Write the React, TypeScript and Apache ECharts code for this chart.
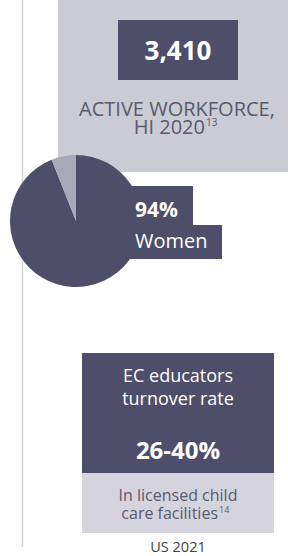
import React, { useEffect, useRef } from "react";
import * as echarts from "echarts";

const pieCategories = ["Women", "Other"];
const pieValues = [94, 6];
const workforceValue = "3,410";
const workforceLabel = ["ACTIVE WORKFORCE,", "HI 2020"];
const workforceNote = "13";
const turnoverTitle = ["EC educators", "turnover rate"];
const turnoverRange = "26-40%";
const turnoverSub = ["In licensed child", "care facilities"];
const turnoverNote = "14";
const turnoverSource = "US 2021";

const DARK = "#4f4e6a";
const LIGHTBOX = "#cbcbd5";
const TEXT = "#5a596f";
const FONT = "'Open Sans', 'Noto Sans', sans-serif";

export default function App() {
  const ref = useRef<HTMLDivElement>(null);
  useEffect(() => {
    document.body.style.margin = "0";
    const chart = echarts.init(ref.current!, null, { renderer: "svg" });
    const labFont = `20px ${FONT}`;
    const subFont = `16px ${FONT}`;
    chart.setOption({
      animation: false,
      graphic: [
        { type: "line", shape: { x1: 22.5, y1: 0, x2: 22.5, y2: 547 }, style: { stroke: "#d6d6d6", lineWidth: 1.5 } },
        { type: "rect", shape: { x: 58, y: 0, width: 230, height: 172 }, style: { fill: LIGHTBOX } },
        { type: "rect", shape: { x: 118, y: 20, width: 120, height: 60 }, style: { fill: DARK } },
        {
          type: "text", x: 178, y: 50,
          style: { text: workforceValue, fill: "#fff", font: `bold 26px ${FONT}`, align: "center", verticalAlign: "middle" },
        },
        {
          type: "text", x: 177, y: 108,
          style: { text: workforceLabel[0], fill: TEXT, font: labFont, align: "center", verticalAlign: "middle" },
        },
        {
          type: "text", x: 205, y: 126,
          style: { text: workforceLabel[1], fill: TEXT, font: labFont, align: "right", verticalAlign: "middle" },
        },
        {
          type: "text", x: 206, y: 122,
          style: { text: workforceNote, fill: TEXT, font: `10px ${FONT}`, align: "left", verticalAlign: "middle" },
        },
        { type: "rect", shape: { x: 120, y: 186, width: 73, height: 40 }, style: { fill: DARK } },
        { type: "rect", shape: { x: 120, y: 225, width: 102, height: 34 }, style: { fill: DARK } },
        {
          type: "text", x: 135, y: 209, z: 10,
          style: { text: `${pieValues[0]}%`, fill: "#fff", font: `bold 21px ${FONT}`, align: "left", verticalAlign: "middle" },
        },
        {
          type: "text", x: 135, y: 240, z: 10,
          style: { text: pieCategories[0], fill: "#fff", font: `20px ${FONT}`, align: "left", verticalAlign: "middle" },
        },
        { type: "rect", shape: { x: 82, y: 353, width: 192, height: 120 }, style: { fill: DARK } },
        { type: "rect", shape: { x: 82, y: 473, width: 192, height: 60 }, style: { fill: "#d5d4de" } },
        {
          type: "text", x: 178, y: 386,
          style: {
            text: `${turnoverTitle[0]}\n${turnoverTitle[1]}`,
            fill: "#fff", font: `18px ${FONT}`, lineHeight: 23, align: "center", verticalAlign: "middle",
          },
        },
        {
          type: "text", x: 178, y: 449,
          style: { text: turnoverRange, fill: "#fff", font: `bold 24px ${FONT}`, align: "center", verticalAlign: "middle" },
        },
        {
          type: "text", x: 178, y: 495,
          style: { text: turnoverSub[0], fill: TEXT, font: subFont, align: "center", verticalAlign: "middle" },
        },
        {
          type: "text", x: 218, y: 513,
          style: { text: turnoverSub[1], fill: TEXT, font: subFont, align: "right", verticalAlign: "middle" },
        },
        {
          type: "text", x: 219, y: 509,
          style: { text: turnoverNote, fill: TEXT, font: `9px ${FONT}`, align: "left", verticalAlign: "middle" },
        },
        {
          type: "text", x: 178, y: 546,
          style: { text: turnoverSource, fill: "#444", font: `14.5px ${FONT}`, align: "center", verticalAlign: "middle" },
        },
      ],
      series: [
        {
          type: "pie",
          center: [76, 221],
          radius: [0, 66],
          startAngle: 90,
          clockwise: true,
          label: { show: false },
          labelLine: { show: false },
          emphasis: { disabled: true },
          data: pieCategories.map((name, i) => ({
            name,
            value: pieValues[i],
            itemStyle: { color: i === 0 ? DARK : "#a9a8b8" },
          })),
        },
      ],
    });
    return () => chart.dispose();
  }, []);
  return <div ref={ref} style={{ width: 288, height: 556 }} />;
}
